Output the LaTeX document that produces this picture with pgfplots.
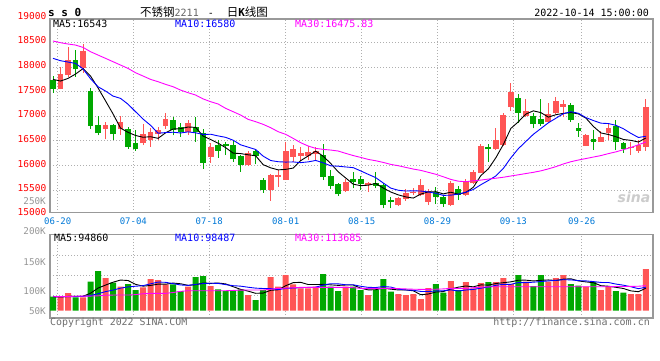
\documentclass[border=0pt]{standalone}
\usepackage{fontspec}
\usepackage{pgfplots}
\usepackage{pgfplotstable}
\pgfplotsset{compat=1.18}
\setmainfont{DejaVu Sans Mono}
\newfontfamily\mono{DejaVu Sans Mono}
\newfontfamily\cjk{Noto Sans CJK SC}
\newfontfamily\sans{DejaVu Sans}
\definecolor{cred}{RGB}{255,85,85}
\definecolor{cgreen}{RGB}{0,168,0}
\definecolor{xblue}{RGB}{0,120,215}
\definecolor{mablue}{RGB}{0,0,255}
\definecolor{mamag}{RGB}{255,0,255}
\definecolor{framegray}{RGB}{153,153,153}
\definecolor{gridgray}{RGB}{175,175,175}
\definecolor{labgray}{RGB}{150,150,150}
\definecolor{copygray}{RGB}{110,110,110}
\definecolor{titlegray}{RGB}{100,100,100}

\pgfplotstableread{
i o h l c v
1 17557 17991 17544 17855 90.0
2 17835 18397 17801 18140 96.2
4 17984 18465 17882 18322 88.9
7 16745 16887 16528 16820 121.2
9 16732 17002 16617 16880 106.7
12 16447 16840 16413 16637 105.6
13 16515 16752 16380 16684 119.5
14 16637 16786 16515 16718 117.8
15 16799 17057 16745 16941 110.6
18 16684 16921 16617 16853 106.7
21 16177 16447 16055 16366 107.8
26 16008 16292 15987 16245 92.8
29 15500 15825 15283 15805 122.8
30 15771 15906 15568 15805 106.7
31 15703 16482 15703 16292 126.2
32 16177 16414 16062 16326 110.6
33 16197 16380 16089 16258 103.9
34 16197 16400 16109 16279 103.9
35 16231 16367 16089 16299 106.7
39 15487 15717 15466 15656 106.7
42 15601 15669 15466 15635 92.8
46 15195 15364 15174 15330 94.5
47 15317 15513 15283 15432 92.8
48 15432 15533 15398 15465 94.5
49 15398 15716 15377 15601 86.2
50 15262 15513 15195 15486 104.5
53 15195 15682 15174 15635 116.2
55 15398 15716 15377 15669 114.5
56 15635 15906 15621 15872 103.9
57 15851 16434 15838 16393 112.8
59 16325 16752 16312 16515 114.5
60 16413 17057 16393 17023 121.2
61 17178 17679 17111 17497 111.1
63 17002 17341 16989 17111 115.0
66 16887 17273 16867 17043 115.0
67 17057 17395 17043 17314 121.2
68 17192 17327 16975 17246 126.2
71 16393 16637 16393 16617 106.7
73 16481 16705 16481 16583 101.2
74 16664 16853 16515 16765 106.7
77 16346 16481 16210 16379 94.5
78 16298 16515 16258 16413 94.5
79 16366 17348 16298 17178 136.2
}\redtab

\pgfplotstableread{
i o h l c v
0 17733 17815 17476 17557 90.0
3 18140 18343 17801 17950 88.9
5 17510 17564 16745 16806 115.0
6 16820 17002 16610 16650 132.8
8 16820 16840 16515 16630 113.3
10 16738 16772 16339 16380 111.1
11 16447 16718 16298 16332 101.2
16 16921 16989 16610 16718 110.6
17 16772 16853 16583 16671 99.5
19 16772 16975 16481 16684 122.8
20 16660 16730 15930 16053 124.5
22 16414 16516 16157 16299 102.3
23 16434 16482 16211 16400 99.5
24 16414 16516 16075 16130 99.5
25 16190 16211 15872 16008 102.3
27 16292 16312 16028 16197 84.5
28 15703 15737 15446 15500 101.2
36 16211 16434 15703 15771 127.8
37 15784 15906 15520 15588 106.7
38 15622 15649 15385 15412 99.5
40 15716 15872 15533 15669 106.7
41 15723 15790 15499 15621 101.2
43 15635 15872 15533 15587 101.2
44 15601 15635 15127 15195 119.5
45 15296 15364 15127 15262 98.4
51 15465 15567 15215 15350 111.1
52 15364 15398 15161 15208 96.7
54 15513 15580 15296 15398 101.2
58 16366 16434 16075 16325 114.5
62 17361 17449 16867 17070 126.2
64 17002 17057 16752 16840 107.8
65 16935 17341 16799 16840 126.2
69 17226 17260 16887 16921 111.1
70 16752 16853 16583 16705 108.4
72 16535 16718 16312 16468 114.5
75 16799 16921 16312 16481 99.5
76 16447 16481 16258 16339 96.7
}\greentab

\pgfplotstableread{
i m5 m10 m30
0 17747 18174 18526
1 17713 18126 18492
2 17767 18099 18465
3 17855 18072 18444
4 17965 17960 18397
5 17815 17760 18309
6 17574 17598 18241
7 17310 17510 18174
8 17046 17408 18106
9 16757 17361 18038
10 16672 17243 17970
11 16608 17091 17882
12 16572 16941 17815
13 16583 16814 17747
14 16550 16654 17700
15 16662 16667 17646
16 16740 16674 17598
17 16746 16659 17530
18 16780 16681 17476
19 16773 16662 17429
20 16596 16629 17350
21 16526 16633 17294
22 16451 16599 17247
23 16361 16570 17159
24 16250 16512 17091
25 16240 16418 17023
26 16216 16371 16935
27 16196 16324 16888
28 16016 16188 16834
29 15951 16100 16766
30 15910 16075 16685
31 15920 16068 16631
32 15946 16071 16549
33 16097 16057 16461
34 16192 16072 16394
35 16291 16101 16346
36 16187 16053 16326
37 16039 15992 16312
38 15870 15984 16292
39 15745 15969 16245
40 15619 15955 16200
41 15589 15888 16163
42 15599 15819 16122
43 15634 15752 16095
44 15541 15643 16061
45 15460 15540 16021
46 15402 15496 15994
47 15361 15480 15960
48 15337 15485 15926
49 15418 15480 15900
50 15463 15461 15860
51 15467 15434 15820
52 15422 15392 15770
53 15456 15396 15716
54 15415 15417 15680
55 15452 15457 15669
56 15556 15512 15689
57 15793 15608 15702
58 15931 15694 15723
59 16155 15785 15740
60 16426 15939 15760
61 16751 16154 15785
62 16886 16340 15810
63 17043 16487 15835
64 17108 16632 15860
65 17072 16749 15890
66 16981 16866 15930
67 17030 16958 15975
68 17057 17050 16030
69 17073 17091 16075
70 17046 17059 16110
71 16961 16971 16140
72 16791 16911 16170
73 16659 16858 16200
74 16628 16850 16240
75 16583 16814 16275
76 16527 16744 16320
77 16509 16650 16365
78 16475 16567 16420
79 16558 16593 16476
}\matab

\pgfplotstableread{
i m5 m10 m30
0 90.0 90.0 90.0
1 89.5 90.0 90.2
2 90.5 90.0 90.5
3 90.5 90.2 90.8
4 90.8 90.5 91.1
5 95.8 92.0 91.1
6 104.4 95.0 91.5
7 109.4 98.5 92.5
8 114.2 101.0 92.8
9 117.8 104.3 92.8
10 117.0 106.4 92.8
11 110.7 107.5 93.5
12 107.6 108.5 95.0
13 108.8 111.5 95.6
14 111.0 114.4 95.6
15 110.9 114.0 95.6
16 112.8 111.8 97.0
17 111.6 109.6 99.0
18 109.0 108.9 100.0
19 110.0 110.5 100.0
20 112.8 111.9 100.0
21 112.3 112.5 100.0
22 112.8 112.2 100.0
23 111.4 110.2 100.0
24 106.7 108.4 100.5
25 102.3 107.6 101.0
26 99.3 105.8 101.2
27 95.7 104.3 101.2
28 96.1 103.7 101.2
29 100.7 103.7 102.5
30 101.6 101.9 103.9
31 108.3 103.8 104.2
32 113.5 104.6 105.0
33 114.0 105.1 105.6
34 110.3 105.5 105.6
35 110.3 105.9 105.6
36 110.6 109.4 105.6
37 109.8 111.7 105.6
38 108.9 111.5 105.6
39 109.5 109.9 105.6
40 109.5 109.9 105.0
41 104.2 107.4 104.0
42 101.4 105.6 104.0
43 101.7 105.3 104.0
44 104.3 106.9 104.0
45 102.6 106.1 104.0
46 101.3 102.7 103.5
47 101.3 101.3 103.0
48 99.9 100.8 102.5
49 93.3 98.8 102.3
50 94.5 98.6 102.3
51 97.8 99.6 102.5
52 98.6 99.9 103.0
53 102.9 101.4 103.9
54 105.9 99.6 103.9
55 107.9 101.2 104.0
56 106.5 102.2 105.0
57 109.7 104.2 106.0
58 109.4 106.2 106.5
59 112.0 109.0 106.7
60 113.4 110.7 106.7
61 114.8 110.7 106.7
62 117.5 113.6 106.7
63 117.6 113.5 106.7
64 116.3 114.2 106.7
65 117.3 115.3 106.7
66 118.0 116.4 106.7
67 117.0 117.3 106.7
68 119.3 118.4 106.7
69 119.9 118.1 106.7
70 116.4 116.8 106.7
71 114.7 116.4 106.7
72 113.4 115.2 106.7
73 108.4 113.8 106.7
74 107.5 113.7 106.7
75 105.7 111.1 107.0
76 103.7 109.2 107.0
77 99.7 106.6 107.2
78 98.4 103.4 107.5
79 104.3 105.9 108.4
}\vmatab

\pgfplotsset{
  panel/.style={
    scale only axis, width=603pt,
    xmin=-0.4, xmax=79.94,
    scaled x ticks=false, scaled y ticks=false,
    axis line style={draw=framegray, line width=1.2pt},
    major tick length=0pt,
    tick style={draw=none},
    xmajorgrids, ymajorgrids,
    grid style={draw=gridgray, line width=0.7pt, dash pattern=on 1pt off 2pt},
    xtick={0.63,10.70,20.82,31.00,41.13,51.23,61.33,70.44},
  },
  wick/.style={draw=none, mark=none, forget plot,
    error bars/.cd, y dir=plus, y explicit, error mark=none,
    error bar style={draw=#1, line width=1pt, solid}},
  body/.style={draw=none, mark=none, forget plot,
    error bars/.cd, y dir=plus, y explicit, error mark=none,
    error bar style={draw=#1, line width=5.8pt, solid}},
}

\begin{document}
\begin{tikzpicture}[x=1pt,y=1pt]
\useasboundingbox (0,0) rectangle (660,360);

% ---------- price panel ----------
\begin{axis}[panel,
  at={(50pt,147.3pt)}, anchor=south west, height=193.7pt,
  ymin=15040, ymax=18973,
  ytick={15500,16000,16500,17000,17500,18000,18500},
  yticklabels={15500,16000,16500,17000,17500,18000,18500},
  yticklabel style={font=\mono\fontsize{9.5}{10}\selectfont, text=red, anchor=east, inner sep=0pt, xshift=-3.5pt, yshift=1.8pt},
  xticklabels={06-20,07-04,07-18,08-01,08-15,08-29,09-13,09-26},
  xticklabel style={font=\mono\fontsize{9}{10}\selectfont, text=xblue, anchor=center, inner sep=0pt, yshift=-8.6pt},
]
\addplot[wick=cred] table[x=i, y=l, y error expr=\thisrow{h}-\thisrow{l}] {\redtab};
\addplot[body=cred] table[x=i, y=o, y error expr=\thisrow{c}-\thisrow{o}] {\redtab};
\addplot[wick=cgreen] table[x=i, y=l, y error expr=\thisrow{h}-\thisrow{l}] {\greentab};
\addplot[body=cgreen] table[x=i, y=c, y error expr=\thisrow{o}-\thisrow{c}] {\greentab};
\addplot[black, line width=0.9pt, mark=none, sharp plot] table[x=i, y=m5] {\matab};
\addplot[mablue, line width=0.9pt, mark=none, sharp plot] table[x=i, y=m10] {\matab};
\addplot[mamag, line width=0.9pt, mark=none, sharp plot] table[x=i, y=m30] {\matab};
\end{axis}

% ---------- volume panel ----------
\begin{axis}[panel,
  at={(50pt,42pt)}, anchor=south west, height=83.3pt,
  ymin=-12.17, ymax=126.67,
  ytick={26.2,59.5,92.8}, yticklabels={}, xticklabels={},
]
\addplot[ybar, bar width=6pt, bar shift=0pt, fill=cred, draw=none, forget plot] table[x=i, y expr=\thisrow{v}-66.7] {\redtab};
\addplot[ybar, bar width=6pt, bar shift=0pt, fill=cgreen, draw=none, forget plot] table[x=i, y expr=\thisrow{v}-66.7] {\greentab};
\addplot[black, line width=0.9pt, mark=none, sharp plot] table[x=i, y expr=\thisrow{m5}-66.7] {\vmatab};
\addplot[mablue, line width=0.9pt, mark=none, sharp plot] table[x=i, y expr=\thisrow{m10}-66.7] {\vmatab};
\addplot[mamag, line width=0.9pt, mark=none, sharp plot] table[x=i, y expr=\thisrow{m30}-66.7] {\vmatab};
\end{axis}

% ---------- texts ----------
\node[anchor=base west, inner sep=0, font=\mono\bfseries\fontsize{11}{12}\selectfont] at (48,344) {s s 0};
\node[anchor=base west, inner sep=0] at (140,344) {{\cjk\fontsize{11.5}{12}\selectfont 不锈钢}{\mono\fontsize{10}{12}\selectfont\color{titlegray}2211}\hspace{9pt}{\mono\fontsize{10}{12}\selectfont -}\hspace{13pt}{\cjk\fontsize{11.5}{12}\selectfont 日}{\mono\bfseries\fontsize{11}{12}\selectfont K}{\cjk\fontsize{11.5}{12}\selectfont 线图}};
\node[anchor=base east, inner sep=0, font=\mono\fontsize{10}{12}\selectfont] at (649,344) {2022-10-14 15:00:00};

\node[anchor=base west, inner sep=0, font=\mono\fontsize{10}{12}\selectfont, text=black] at (53,333) {MA5:16543};
\node[anchor=base west, inner sep=0, font=\mono\fontsize{10}{12}\selectfont, text=mablue] at (175,333) {MA10:16580};
\node[anchor=base west, inner sep=0, font=\mono\fontsize{10}{12}\selectfont, text=mamag] at (295,333) {MA30:16475.83};

\node[anchor=base west, inner sep=0, font=\mono\fontsize{10}{12}\selectfont, text=black] at (54,118.5) {MA5:94860};
\node[anchor=base west, inner sep=0, font=\mono\fontsize{10}{12}\selectfont, text=mablue] at (175,118.5) {MA10:98487};
\node[anchor=base west, inner sep=0, font=\mono\fontsize{10}{12}\selectfont, text=mamag] at (295,118.5) {MA30:113685};

\node[anchor=base east, inner sep=0, font=\mono\fontsize{9.5}{10}\selectfont, text=red] at (46.5,341) {19000};
\node[anchor=base east, inner sep=0, font=\mono\fontsize{9.5}{10}\selectfont, text=red] at (46.5,144.7) {15000};

\node[anchor=base east, inner sep=0, font=\mono\fontsize{9.3}{10}\selectfont, text=labgray] at (46,156) {250K};
\node[anchor=base east, inner sep=0, font=\mono\fontsize{9.3}{10}\selectfont, text=labgray] at (46,125.7) {200K};
\node[anchor=base east, inner sep=0, font=\mono\fontsize{9.3}{10}\selectfont, text=labgray] at (46,95) {150K};
\node[anchor=base east, inner sep=0, font=\mono\fontsize{9.3}{10}\selectfont, text=labgray] at (46,66) {100K};
\node[anchor=base east, inner sep=0, font=\mono\fontsize{9.3}{10}\selectfont, text=labgray] at (46,46) {50K};

\node[anchor=base west, inner sep=0, font=\mono\fontsize{9.9}{10}\selectfont, text=copygray] at (50,34.5) {Copyright 2022 SINA.COM};
\node[anchor=base east, inner sep=0, font=\mono\fontsize{10}{10}\selectfont, text=copygray] at (650,34.5) {http://finance.sina.com.cn};

\node[inner sep=0, font=\sans\bfseries\itshape\fontsize{14}{14}\selectfont, text=black!20] at (634,163) {sina};
\end{tikzpicture}
\end{document}
